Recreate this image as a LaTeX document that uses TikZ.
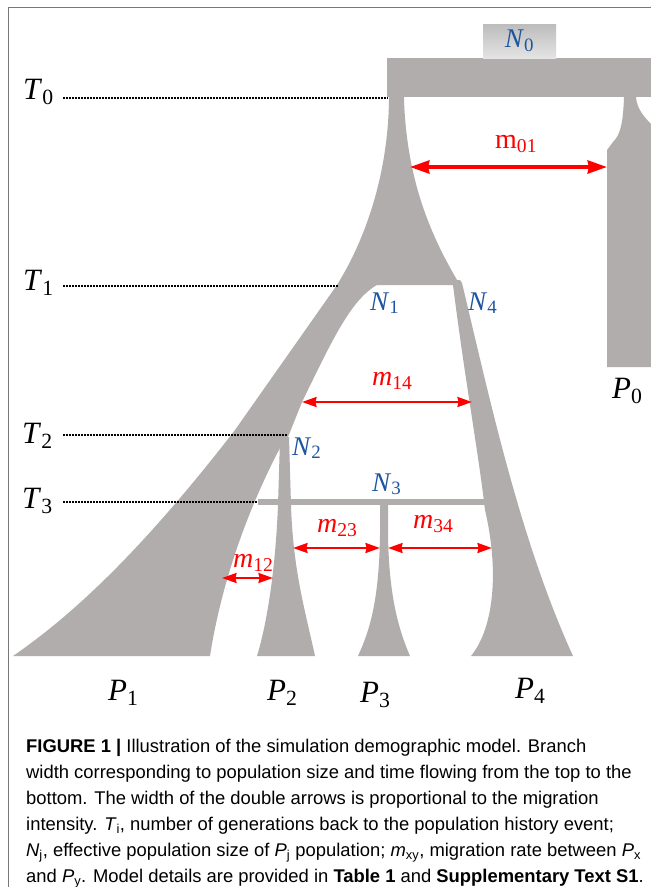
\documentclass[tikz,border=0pt]{standalone}
\usepackage{amsmath}
\usepackage{fontspec}
\setmainfont{Liberation Serif}
\setsansfont{Liberation Sans}
\usepackage{tikz}
\usetikzlibrary{arrows.meta}
\definecolor{popgray}  {RGB}{177,173,173}
\definecolor{nblue}    {RGB}{30,85,160}
\definecolor{migred}   {RGB}{255,0,0}
\definecolor{framegray}{RGB}{120,120,120}
\definecolor{n0top}    {RGB}{188,188,188}
\definecolor{n0bot}    {RGB}{228,228,228}
\newcommand\lsub[1]{$_{\text{#1}}$}
\tikzset{
  branch/.style={fill=popgray},
  tlab/.style  ={font=\fontsize{31}{31}\selectfont, inner sep=0pt, anchor=base west},
  nlab/.style  ={font=\fontsize{27}{27}\selectfont, text=nblue,
                 inner sep=0pt, anchor=base west},
  mlab/.style  ={font=\fontsize{28}{28}\selectfont, text=migred,
                 inner sep=0pt, anchor=base west},
  n0box/.style ={top color=n0top, bottom color=n0bot, minimum width=73pt,
                 minimum height=34pt, inner sep=0pt, text=nblue,
                 font=\fontsize{27}{27}\selectfont},
  tline/.style ={line width=2pt, dash pattern=on 1.6pt off 1.4pt},
  marr/.style  ={{Stealth[length=4pt 4,width=3pt 2.6,inset=1pt]}-{Stealth[length=4pt 4,width=3pt 2.6,inset=1pt]},
                 line width=#1, draw=migred},
  marr/.default=2.6pt,
  capt/.style  ={font=\sffamily\fontsize{18.4}{26}\selectfont, align=left,
                 inner sep=0pt, anchor=north west},
}
\begin{document}
\begin{tikzpicture}[x=1pt,y=-1pt]
  \useasboundingbox (0,0) rectangle (651,887);
  \fill[white] (0,0) rectangle (651,887);
  \begin{scope}
  \clip (0,0) rectangle (651,887);
  \draw[framegray, line width=1.6pt] (8.5,887) -- (8.5,7.5) -- (651,7.5);
  %% populations
  \fill[branch] (387,58) rectangle (660,97);
  \fill[branch] (389,95) -- (389,100)
    .. controls (388,170) and (368,235) .. (337,285)
    -- (235,430)
    .. controls (150,540) and (80,610) .. (13,656)
    -- (210,656)
    .. controls (225,560) and (262,482) .. (281,446)
    -- (288,437) -- (302,402)
    .. controls (330,345) and (350,300) .. (377,285)
    -- (460,285)
    .. controls (430,235) and (407,180) .. (404,100) -- (404,95) -- cycle;
  \fill[branch] (452,280) -- (453,285)
    .. controls (465,380) and (478,450) .. (485,510)
    .. controls (498,565) and (496,625) .. (471,656)
    -- (573,656)
    .. controls (520,540) and (490,400) .. (462,283) -- (460,280) -- cycle;
  \fill[branch] (280,440) -- (289,437) -- (291,505)
    .. controls (293,570) and (305,610) .. (315,656)
    -- (257,656)
    .. controls (265,630) and (275,580) .. (278,505) -- cycle;
  \fill[branch] (258,499) rectangle (486,505);
  \fill[branch] (380,503) -- (380,535)
    .. controls (379,600) and (370,630) .. (358,656)
    -- (410,656)
    .. controls (398,628) and (389,595) .. (388,535) -- (388,503) -- cycle;
  \fill[branch] (624,95) -- (624,97)
    .. controls (623,125) and (620,135) .. (613,142)
    -- (607,150) -- (607,367) -- (655,367) -- (655,128)
    .. controls (645,118) and (637,110) .. (636,97) -- (636,95) -- cycle;
  \end{scope}
  \node[n0box] (N0) at (519.5,41) {\textit{N}\lsub{0}};
  %% time lines
  \node[tlab] (T0) at (23,99)  {\textit{T}\lsub{0}};
  \node[tlab] (T1) at (23,290) {\textit{T}\lsub{1}};
  \node[tlab] (T2) at (22,443) {\textit{T}\lsub{2}};
  \node[tlab] (T3) at (22,508) {\textit{T}\lsub{3}};
  \coordinate (t0a) at (63,98);  \coordinate (t0b) at (388,98);
  \coordinate (t1a) at (63,286); \coordinate (t1b) at (338,286);
  \coordinate (t2a) at (63,435); \coordinate (t2b) at (287,435);
  \coordinate (t3a) at (63,502); \coordinate (t3b) at (257,502);
  \draw[tline] (t0a) -- (t0b);
  \draw[tline] (t1a) -- (t1b);
  \draw[tline] (t2a) -- (t2b);
  \draw[tline] (t3a) -- (t3b);
  %% sizes
  \node[nlab] (N1) at (370,310) {\textit{N}\lsub{1}};
  \node[nlab] (N4) at (468,310) {\textit{N}\lsub{4}};
  \node[nlab] (N2) at (292,455) {\textit{N}\lsub{2}};
  \node[nlab] (N3) at (372,491) {\textit{N}\lsub{3}};
  %% migration
  \coordinate (m01a) at (410,167); \coordinate (m01b) at (607,167);
  \coordinate (m14a) at (302,402); \coordinate (m14b) at (472,402);
  \coordinate (m23a) at (293,548); \coordinate (m23b) at (380,548);
  \coordinate (m34a) at (388,548); \coordinate (m34b) at (492,548);
  \coordinate (m12a) at (222,578); \coordinate (m12b) at (273,578);
  \draw[marr=3.8pt] (m01a) -- (m01b);
  \draw[marr] (m14a) -- (m14b);
  \draw[marr] (m23a) -- (m23b);
  \draw[marr] (m34a) -- (m34b);
  \draw[marr] (m12a) -- (m12b);
  \node[mlab] (l01) at (495,148) {m\lsub{01}};
  \node[mlab] (l14) at (372,385) {\textit{m}\lsub{14}};
  \node[mlab] (l23) at (317,532) {\textit{m}\lsub{23}};
  \node[mlab] (l34) at (413,528) {\textit{m}\lsub{34}};
  \node[mlab] (l12) at (233,567) {\textit{m}\lsub{12}};
  %% present populations
  \node[tlab] (P1) at (108,700) {\textit{P}\lsub{1}};
  \node[tlab] (P2) at (267,700) {\textit{P}\lsub{2}};
  \node[tlab] (P3) at (360,702) {\textit{P}\lsub{3}};
  \node[tlab] (P4) at (515,698) {\textit{P}\lsub{4}};
  \node[tlab] (P0) at (612,398) {\textit{P}\lsub{0}};
  \node[capt] (cap) at (26,739) {%
    \textbf{FIGURE 1 |} Illustration of the simulation demographic model. Branch\\
    width corresponding to population size and time flowing from the top to the\\
    bottom. The width of the double arrows is proportional to the migration\\
    intensity. \textit{T}\lsub{i}, number of generations back to the population history event;\\
    \textit{N}\lsub{j}, effective population size of \textit{P}\lsub{j} population; \textit{m}\lsub{xy}, migration rate between \textit{P}\lsub{x}\\
    and \textit{P}\lsub{y}. Model details are provided in \textbf{Table 1} and \textbf{Supplementary Text S1}.};
\end{tikzpicture}
\end{document}
